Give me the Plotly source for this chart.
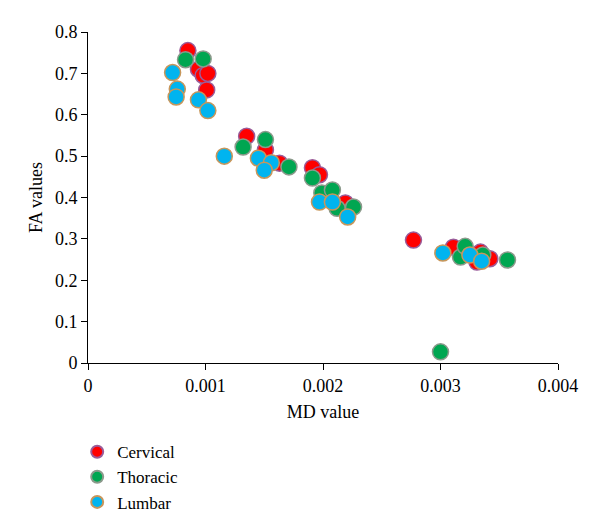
import plotly.graph_objects as go

# MD / FA values
cervical_md = [0.00085, 0.00094, 0.00098, 0.00102, 0.00101, 0.00135, 0.00151, 0.00163,
               0.00191, 0.00197, 0.00219, 0.00277, 0.00311, 0.00334, 0.00331, 0.00342]
cervical_fa = [0.755, 0.71, 0.695, 0.70, 0.66, 0.548, 0.515, 0.483,
               0.472, 0.455, 0.387, 0.297, 0.280, 0.268, 0.244, 0.252]

thoracic_md = [0.00083, 0.00098, 0.00132, 0.00151, 0.00171, 0.00191, 0.00199, 0.00208,
               0.00212, 0.00226, 0.00300, 0.00317, 0.00321, 0.00336, 0.00357]
thoracic_fa = [0.733, 0.735, 0.522, 0.540, 0.474, 0.447, 0.411, 0.418,
               0.374, 0.377, 0.027, 0.256, 0.282, 0.261, 0.249]

lumbar_md = [0.00072, 0.00076, 0.00075, 0.00094, 0.00102, 0.00116, 0.00145, 0.00156,
             0.00150, 0.00197, 0.00208, 0.00221, 0.00302, 0.00325, 0.00335]
lumbar_fa = [0.702, 0.662, 0.643, 0.636, 0.610, 0.500, 0.495, 0.484,
             0.466, 0.389, 0.389, 0.353, 0.266, 0.261, 0.246]

x_ticks = [0, 0.001, 0.002, 0.003, 0.004]
x_ticklabels = ["0", "0.001", "0.002", "0.003", "0.004"]
y_ticks = [0, 0.1, 0.2, 0.3, 0.4, 0.5, 0.6, 0.7, 0.8]
y_ticklabels = ["0", "0.1", "0.2", "0.3", "0.4", "0.5", "0.6", "0.7", "0.8"]

FONT = "Liberation Serif"

fig = go.Figure()

series = [
    ("Cervical", cervical_md, cervical_fa, "#ff0000", "#9a5c9a"),
    ("Thoracic", thoracic_md, thoracic_fa, "#00a651", "#8c9a8c"),
    ("Lumbar", lumbar_md, lumbar_fa, "#00b4ef", "#c8965a"),
]
for name, xs, ys, fill, edge in series:
    fig.add_trace(go.Scatter(
        x=xs, y=ys, mode="markers", name=name,
        marker=dict(size=16, color=fill, line=dict(color=edge, width=1.5))
    ))

fig.update_layout(
    template="none",
    width=600, height=531,
    # the page body adds an 8px offset, so margins are shifted to compensate
    margin=dict(l=80, r=50, t=24, b=176, autoexpand=False),
    paper_bgcolor="white", plot_bgcolor="white",
    font=dict(family=FONT, size=17, color="black"),
    xaxis=dict(
        range=[0, 0.004], tickmode="array", tickvals=x_ticks, ticktext=x_ticklabels,
        tickfont=dict(family=FONT, size=18),
        showline=True, linecolor="black", linewidth=1, showgrid=False, zeroline=False,
        ticks="outside", ticklen=6, tickcolor="black", automargin=False,
        title=dict(text="MD value", standoff=10, font=dict(family=FONT, size=18)),
    ),
    yaxis=dict(
        range=[0, 0.8], tickmode="array", tickvals=y_ticks, ticktext=y_ticklabels,
        tickfont=dict(family=FONT, size=18),
        showline=True, linecolor="black", linewidth=1, showgrid=False, zeroline=False,
        ticks="outside", ticklen=6, tickcolor="black", automargin=False,
        title=dict(text="FA values", standoff=7, font=dict(family=FONT, size=18)),
    ),
    legend=dict(x=-0.023, y=-0.215, xanchor="left", yanchor="top",
                tracegroupgap=0, itemsizing="constant",
                font=dict(family=FONT, size=17, color="black")),
)

fig.write_html("out.html")
